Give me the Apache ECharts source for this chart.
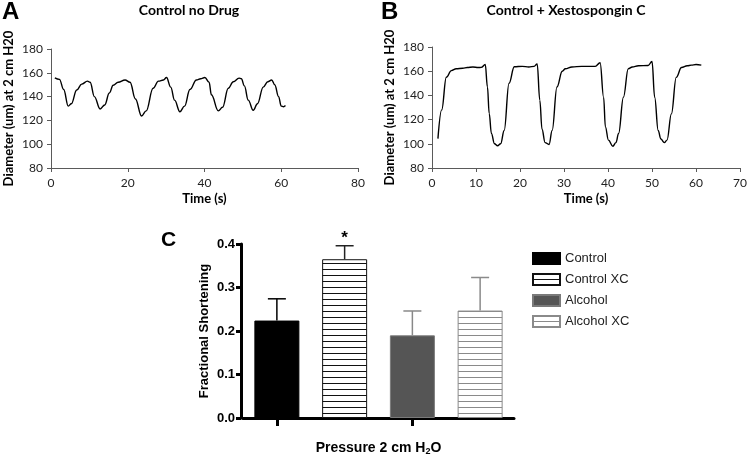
<!DOCTYPE html>
<html><head><meta charset="utf-8">
<script src="https://cdn.jsdelivr.net/npm/echarts@6/dist/echarts.min.js"></script>
<style>html,body{margin:0;padding:0;background:#fff}#c{width:750px;height:457px}</style>
</head><body><div id="c"></div>
<script>
// Panel A: Control no Drug (time s, diameter um)
const timeA = [1.0,2.2,3.3,4.5,5.3,6.7,8.0,9.5,10.2,11.3,12.8,14.0,15.2,16.2,17.5,19.3,20.6,22.0,23.6,24.8,26.6,28.0,29.3,30.1,31.2,32.2,33.6,34.8,36.2,37.9,39.0,40.1,41.2,41.8,43.6,44.7,46.2,47.5,49.0,49.6,50.4,51.4,52.7,53.8,55.3,56.5,57.5,58.3,59.3,60.0,60.6,61.1];
const diamA = [155.8,154.5,146,132,134,145.5,150.5,153,152,140,129.6,133,143,149.5,152,154,152,138,123.7,128,147,153,154,156,148,137,127.3,132,146,154,155,156,152,141.5,128,131,147,152.5,155.5,155,149,137,128.5,134,148,152.5,154,150,140,132,131.5,132.5];
// Panel B: Control + Xestospongin C
const timeB = [1.35,2.2,3.25,4.4,5.5,7.0,8.0,9.3,10.5,11.2,12.1,12.6,13.0,13.5,14.2,14.9,15.6,16.4,17.5,18.7,20.5,22.0,23.2,23.9,24.5,25.0,25.7,26.6,27.3,28.4,29.6,30.3,31.8,34.0,36.0,37.1,38.2,39.0,39.4,40.1,41.1,41.8,42.4,43.5,44.6,45.5,46.9,49.1,50.0,50.6,51.4,52.0,52.8,53.4,54.4,55.5,56.7,58.0,58.9,60.0,61.2];
const diamB = [104.3,128,155,160.5,162,162.5,163,163.5,163,163.2,165.5,147,125,108.5,100,98.4,100,111,150,163.7,164,163.5,164,166,136,112,101,99.4,111,147,160,162,163.5,164,164,164,167,138.5,114,103,98,101,108.5,138.5,162,163.5,164.5,164.7,168,138.5,111,104,101,103,124.7,154.9,163,164.5,165,165.5,165];
const ticksA = {min: 0, max: 80, step: 20};
const ticksB = {min: 0, max: 70, step: 10};
const ticksDiam = {min: 80, max: 180, step: 20};

// Panel C: fractional shortening
const groups = ['Control', 'Control XC', 'Alcohol', 'Alcohol XC'];
const fsMean = [0.224, 0.365, 0.190, 0.247];
const fsErrTop = [0.274, 0.396, 0.246, 0.323];
const sigMarks = ['', '*', '', ''];
const ticksFS = {min: 0, max: 0.4, step: 0.1};

function stripes(line){
  const c = document.createElement('canvas'); c.width = 4; c.height = 6;
  const g = c.getContext('2d');
  g.fillStyle = '#fff'; g.fillRect(0,0,4,6);
  g.fillStyle = line; g.fillRect(0,5,4,1);
  return c;
}
const barStyles = [
  {color:'#000', borderColor:'#000', borderWidth:1},
  {color:{image:stripes('#111'), repeat:'repeat'}, borderColor:'#111', borderWidth:1},
  {color:'#555', borderColor:'#7a7a7a', borderWidth:1},
  {color:{image:stripes('#8a8a8a'), repeat:'repeat'}, borderColor:'#8a8a8a', borderWidth:1}
];
const errColors = ['#000','#222','#888','#8a8a8a'];

const F1 = 'Lato, "Open Sans", sans-serif';
const F2 = '"Liberation Sans", Arial, sans-serif';
const chart = echarts.init(document.getElementById('c'), null, {renderer:'canvas'});

function lineAxisX(t, idx){
  return {gridIndex: idx, type:'value', min:t.min, max:t.max, interval:t.step,
    axisLine:{show:true, lineStyle:{color:'#5a5a5a', width:1}},
    axisTick:{show:true, length:4, lineStyle:{color:'#5a5a5a'}},
    splitLine:{show:false},
    axisLabel:{fontFamily:F1, fontSize:12, color:'#222', margin:9},
    name:'Time (s)', nameLocation:'middle', nameGap:24,
    nameTextStyle:{fontFamily:F1, fontSize:13, fontWeight:'bold', color:'#000'}};
}
function lineAxisY(idx, gap){
  return {gridIndex: idx, type:'value', min:ticksDiam.min, max:ticksDiam.max, interval:ticksDiam.step,
    axisLine:{show:true, lineStyle:{color:'#5a5a5a', width:1}},
    axisTick:{show:true, length:4, lineStyle:{color:'#5a5a5a'}},
    splitLine:{show:false},
    axisLabel:{fontFamily:F1, fontSize:12, color:'#222', margin:8},
    name:'Diameter (um) at 2 cm H20', nameLocation:'middle', nameGap:gap,
    nameTextStyle:{fontFamily:F1, fontSize:13, fontWeight:'bold', color:'#000'}};
}

const barSeries = groups.map((g,i)=>({
  name:g, type:'bar', xAxisIndex:2, yAxisIndex:2, barWidth:45, barGap:'-100%',
  data: groups.map((_,j)=> j===i ? fsMean[i] : '-'),
  itemStyle: barStyles[i], z:2
}));

const option = {
  animation:false,
  backgroundColor:'#fff',
  grid:[
    {left:51, top:49, width:307, height:119},
    {left:432, top:47, width:310, height:121},
    {left:243, top:244, width:271, height:180}
  ],
  xAxis:[
    lineAxisX(ticksA,0),
    lineAxisX(ticksB,1),
    {gridIndex:2, type:'category', data:groups,
      axisLine:{show:true, lineStyle:{color:'#000', width:3}},
      axisTick:{show:true, alignWithLabel:true, length:8, lineStyle:{color:'#000', width:3}},
      axisLabel:{show:false},
      name:'{a|Pressure 2 cm H}{b|2}{a|O}', nameLocation:'middle', nameGap:22,
      nameTextStyle:{rich:{
        a:{fontFamily:F2, fontSize:14, fontWeight:'bold', color:'#000'},
        b:{fontFamily:F2, fontSize:9, fontWeight:'bold', color:'#000', padding:[7,0,0,0]}
      }}}
  ],
  yAxis:[
    lineAxisY(0,36),
    lineAxisY(1,36),
    {gridIndex:2, type:'value', min:ticksFS.min, max:ticksFS.max, interval:ticksFS.step, offset:2,
      axisLine:{show:true, lineStyle:{color:'#000', width:3}},
      axisTick:{show:true, length:5, lineStyle:{color:'#000', width:3}},
      splitLine:{show:false},
      axisLabel:{fontFamily:F2, fontSize:13, fontWeight:'bold', color:'#000', margin:6,
        formatter:v=>v.toFixed(1)},
      name:'Fractional Shortening', nameLocation:'middle', nameGap:30,
      nameTextStyle:{fontFamily:F2, fontSize:13, fontWeight:'bold', color:'#000'}}
  ],
  legend:{
    data:groups, orient:'vertical', left:527, top:247, itemWidth:27, itemHeight:11, itemGap:8,
    icon:'rect', selectedMode:false,
    textStyle:{fontFamily:F2, fontSize:13, color:'#222'}
  },
  graphic:[
    {type:'text', left:2, top:0, style:{text:'A', font:'bold 24px '+F2, fill:'#000'}},
    {type:'text', left:381, top:0, style:{text:'B', font:'bold 24px '+F2, fill:'#000'}},
    {type:'text', left:161, top:230, style:{text:'C', font:'bold 21px '+F2, fill:'#000'}},
    {type:'text', x:189, y:10, style:{text:'Control no Drug', font:'bold 14px '+F1, fill:'#000', textAlign:'center', textVerticalAlign:'middle'}},
    {type:'text', x:566, y:10, style:{text:'Control + Xestospongin C', font:'bold 14px '+F1, fill:'#000', textAlign:'center', textVerticalAlign:'middle'}}
  ],
  series:[
    {type:'line', xAxisIndex:0, yAxisIndex:0, data:timeA.map((t,i)=>[t,diamA[i]]),
      showSymbol:false, smooth:0.4, smoothMonotone:'x', lineStyle:{color:'#000', width:1.4}},
    {type:'line', xAxisIndex:1, yAxisIndex:1, data:timeB.map((t,i)=>[t,diamB[i]]),
      showSymbol:false, smooth:0.4, smoothMonotone:'x', lineStyle:{color:'#000', width:1.4}},
    ...barSeries,
    {type:'custom', xAxisIndex:2, yAxisIndex:2, z:3,
      data: groups.map((g,i)=>[i, fsMean[i], fsErrTop[i]]),
      renderItem:(params, api)=>{
        const i = params.dataIndex;
        const p0 = api.coord([api.value(0), api.value(1)]);
        const p1 = api.coord([api.value(0), api.value(2)]);
        const hw = 9, col = errColors[i];
        const ch = [
          {type:'line', shape:{x1:p0[0], y1:p0[1], x2:p1[0], y2:p1[1]}, style:{stroke:col, lineWidth:1.5}},
          {type:'line', shape:{x1:p1[0]-hw, y1:p1[1], x2:p1[0]+hw, y2:p1[1]}, style:{stroke:col, lineWidth:1.5}}
        ];
        if (sigMarks[i]) ch.push({type:'text', x:p1[0], y:p1[1]-7,
          style:{text:sigMarks[i], font:'bold 17px '+F2, fill:'#000', textAlign:'center', textVerticalAlign:'middle'}});
        return {type:'group', children:ch};
      }}
  ]
};
chart.setOption(option);
</script></body></html>
